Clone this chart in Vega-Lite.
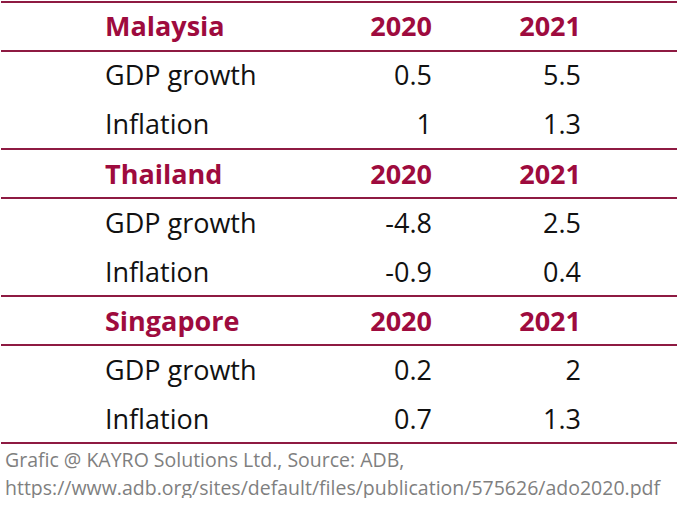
{
  "$schema": "https://vega.github.io/schema/vega-lite/v6.json",
  "width": 677,
  "height": 448,
  "padding": 0,
  "background": "white",
  "config": {"view": {"stroke": null}},
  "title": {
    "text": ["Grafic @ KAYRO Solutions Ltd., Source: ADB,", "https://www.adb.org/sites/default/files/publication/575626/ado2020.pdf"],
    "orient": "bottom",
    "anchor": "start",
    "baseline": "alphabetic",
    "font": "Open Sans",
    "fontSize": 19.5,
    "fontWeight": "normal",
    "color": "#7f7f7f",
    "lineHeight": 27.5,
    "offset": 19,
    "dx": 5
  },
  "datasets": {
    "cells": [
      {"row": 0, "col": 0, "kind": "header", "text": "Malaysia"},
      {"row": 0, "col": 1, "kind": "header", "text": "2020"},
      {"row": 0, "col": 2, "kind": "header", "text": "2021"},
      {"row": 1, "col": 0, "kind": "body", "text": "GDP growth"},
      {"row": 1, "col": 1, "kind": "body", "text": 0.5},
      {"row": 1, "col": 2, "kind": "body", "text": 5.5},
      {"row": 2, "col": 0, "kind": "body", "text": "Inflation"},
      {"row": 2, "col": 1, "kind": "body", "text": 1},
      {"row": 2, "col": 2, "kind": "body", "text": 1.3},
      {"row": 3, "col": 0, "kind": "header", "text": "Thailand"},
      {"row": 3, "col": 1, "kind": "header", "text": "2020"},
      {"row": 3, "col": 2, "kind": "header", "text": "2021"},
      {"row": 4, "col": 0, "kind": "body", "text": "GDP growth"},
      {"row": 4, "col": 1, "kind": "body", "text": -4.8},
      {"row": 4, "col": 2, "kind": "body", "text": 2.5},
      {"row": 5, "col": 0, "kind": "body", "text": "Inflation"},
      {"row": 5, "col": 1, "kind": "body", "text": -0.9},
      {"row": 5, "col": 2, "kind": "body", "text": 0.4},
      {"row": 6, "col": 0, "kind": "header", "text": "Singapore"},
      {"row": 6, "col": 1, "kind": "header", "text": "2020"},
      {"row": 6, "col": 2, "kind": "header", "text": "2021"},
      {"row": 7, "col": 0, "kind": "body", "text": "GDP growth"},
      {"row": 7, "col": 1, "kind": "body", "text": 0.2},
      {"row": 7, "col": 2, "kind": "body", "text": 2},
      {"row": 8, "col": 0, "kind": "body", "text": "Inflation"},
      {"row": 8, "col": 1, "kind": "body", "text": 0.7},
      {"row": 8, "col": 2, "kind": "body", "text": 1.3}
    ],
    "edges": [
      {"edge": -0.5}, {"edge": 0.5}, {"edge": 2.5}, {"edge": 3.5},
      {"edge": 5.5}, {"edge": 6.5}, {"edge": 8.5}
    ]
  },
  "layer": [
    {
      "data": {"name": "edges"},
      "mark": {"type": "rule", "color": "#8e1a42", "strokeWidth": 2},
      "encoding": {
        "y": {"field": "edge", "type": "quantitative", "axis": null,
              "scale": {"domain": [-0.5408, 8.602], "reverse": true, "zero": false, "nice": false}}
      }
    },
    {
      "data": {"name": "cells"},
      "transform": [{"filter": "datum.kind == 'header' && datum.col == 0"}],
      "mark": {"type": "text", "align": "left", "baseline": "middle", "dy": 2, "font": "Open Sans", "fontSize": 27, "fontWeight": "bold", "color": "#9e0b3e"},
      "encoding": {
        "x": {"field": "col", "type": "quantitative", "axis": null, "scale": {"domain": [0, 1, 2], "range": [104, 431, 580]}},
        "y": {"field": "row", "type": "quantitative", "axis": null},
        "text": {"field": "text", "type": "nominal"}
      }
    },
    {
      "data": {"name": "cells"},
      "transform": [{"filter": "datum.kind == 'header' && datum.col > 0"}],
      "mark": {"type": "text", "align": "right", "baseline": "middle", "dy": 2, "font": "Open Sans", "fontSize": 27, "fontWeight": "bold", "color": "#9e0b3e"},
      "encoding": {
        "x": {"field": "col", "type": "quantitative", "axis": null},
        "y": {"field": "row", "type": "quantitative", "axis": null},
        "text": {"field": "text", "type": "nominal"}
      }
    },
    {
      "data": {"name": "cells"},
      "transform": [{"filter": "datum.kind == 'body' && datum.col == 0"}],
      "mark": {"type": "text", "align": "left", "baseline": "middle", "dy": 2, "font": "Open Sans", "fontSize": 27, "color": "#111111"},
      "encoding": {
        "x": {"field": "col", "type": "quantitative", "axis": null},
        "y": {"field": "row", "type": "quantitative", "axis": null},
        "text": {"field": "text", "type": "nominal"}
      }
    },
    {
      "data": {"name": "cells"},
      "transform": [{"filter": "datum.kind == 'body' && datum.col > 0"}],
      "mark": {"type": "text", "align": "right", "baseline": "middle", "dy": 2, "font": "Open Sans", "fontSize": 27, "color": "#111111"},
      "encoding": {
        "x": {"field": "col", "type": "quantitative", "axis": null},
        "y": {"field": "row", "type": "quantitative", "axis": null},
        "text": {"field": "text", "type": "nominal"}
      }
    }
  ]
}
